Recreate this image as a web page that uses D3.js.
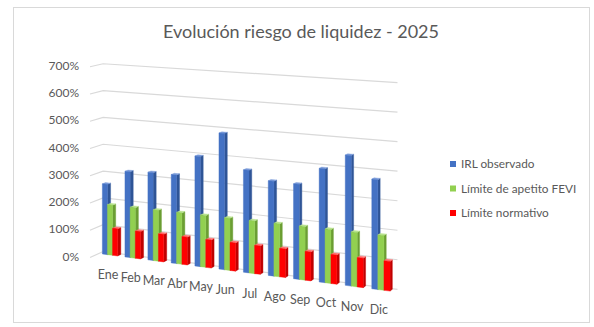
<!DOCTYPE html>
<html>
<head>
<meta charset="utf-8">
<script src="https://cdn.jsdelivr.net/npm/d3@7"></script>
<style>
  html, body { margin: 0; padding: 0; background: #ffffff; }
  svg { display: block; font-family: Lato, "Open Sans", sans-serif; }
</style>
</head>
<body>
<svg id="chart" width="594" height="327"></svg>
<script>
// ---- data ----
const months = ["Ene", "Feb", "Mar", "Abr", "May", "Jun", "Jul", "Ago", "Sep", "Oct", "Nov", "Dic"];
const irlObservado    = [260, 315, 320, 320, 395, 485, 362, 332, 330, 392, 446, 372];
const limiteApetito   = [185, 185, 185, 185, 185, 185, 185, 185, 185, 185, 185, 185];
const limiteNormativo = [100, 100, 100, 100, 100, 100, 100, 100, 100, 100, 100, 100];
const seriesNames = ["IRL observado", "Límite de apetito FEVI", "Límite normativo"];
const yTicks = [0, 100, 200, 300, 400, 500, 600, 700];
const chartTitle = "Evolución riesgo de liquidez - 2025";

// ---- styles ----
const faceColors = [
  { front: "#4472C4", side: "#2F5597", top: "#7C9CDA" },
  { front: "#92D050", side: "#6B9E33", top: "#B8E28E" },
  { front: "#FF0000", side: "#C00000", top: "#FF7070" }
];
const textColor = "#595959";
const gridColor = "#d9d9d9";

const svg = d3.select("#chart");

// chart frame
svg.append("rect")
  .attr("x", 13.5).attr("y", 7.5)
  .attr("width", 576).attr("height", 315)
  .attr("fill", "#ffffff").attr("stroke", gridColor);

// ---- 3-D perspective camera (world units: 1 = 100 %) ----
const view = { f: 1400, ox: 300, oy: -124, eye: 14, yaw: 24.12 * Math.PI / 180, z0: 52.19, x0: -7.34 };
const sinY = Math.sin(view.yaw), cosY = Math.cos(view.yaw);
function project(X, Y, Z) {
  const zc = view.z0 - X * sinY - Z * cosY;
  const xc = view.x0 + X * cosY - Z * sinY;
  return [view.ox + view.f * xc / zc, view.oy + view.f * (view.eye - Y) / zc];
}

const floorLen = 11.66, floorDepth = 0.895, barFront = 0.3, barDepth = 0.22;

const x = d3.scaleBand().domain(months).range([0, floorLen]).paddingInner(0.32).paddingOuter(0.16);
const xs = d3.scaleBand().domain(seriesNames).range([0, x.bandwidth()]);
const y = d3.scaleLinear().domain([0, 700]).range([0, 7]);

const line = d3.line();

// ---- walls: gridlines on side wall and back wall ----
const grid = svg.append("g").attr("class", "grid");
yTicks.forEach(t => {
  const pts = [
    project(0, y(t), floorDepth),
    project(0, y(t), 0),
    project(floorLen, y(t), 0)
  ];
  grid.append("path")
    .attr("d", line(pts))
    .attr("fill", "none")
    .attr("stroke", gridColor)
    .attr("stroke-width", 1.2);
});

// value axis labels
const yAxis = svg.append("g").attr("class", "y-axis");
yTicks.forEach(t => {
  const p = project(0, y(t), floorDepth);
  yAxis.append("text")
    .attr("x", p[0] - 11)
    .attr("y", p[1] - 1)
    .attr("dy", "0.35em")
    .attr("text-anchor", "end")
    .attr("font-size", 12)
    .attr("fill", textColor)
    .text(d3.format(".0%")(t / 100));
});

// ---- bars (painter's order: far/left first) ----
const seriesValues = [irlObservado, limiteApetito, limiteNormativo];
const bars = svg.append("g").attr("class", "bars");
months.forEach((m, i) => {
  seriesNames.forEach((s, j) => {
    const v = seriesValues[j][i];
    const X0 = x(m) + xs(s), X1 = X0 + xs.bandwidth();
    const Z1 = barFront, Z0 = barFront - barDepth;
    const H = y(v);
    const c = faceColors[j];
    const faces = [
      { pts: [[X1, 0, Z1], [X1, 0, Z0], [X1, H, Z0], [X1, H, Z1]], fill: c.side },
      { pts: [[X0, H, Z1], [X1, H, Z1], [X1, H, Z0], [X0, H, Z0]], fill: c.top },
      { pts: [[X0, 0, Z1], [X1, 0, Z1], [X1, H, Z1], [X0, H, Z1]], fill: c.front }
    ];
    faces.forEach(f => {
      bars.append("path")
        .attr("d", line(f.pts.map(p => project(...p))) + "Z")
        .attr("fill", f.fill)
        .attr("stroke", f.fill)
        .attr("stroke-width", 0.4);
    });
  });
});

// category labels
const xAxis = svg.append("g").attr("class", "x-axis");
months.forEach(m => {
  const p = project(x(m) + x.bandwidth() / 2, 0, barFront);
  xAxis.append("text")
    .attr("x", p[0] - 2)
    .attr("y", p[1] + 20)
    .attr("dy", "0.35em")
    .attr("text-anchor", "middle")
    .attr("font-size", 12.5)
    .attr("fill", textColor)
    .text(m);
});

// ---- title ----
svg.append("text")
  .attr("x", 301).attr("y", 38)
  .attr("text-anchor", "middle")
  .attr("font-size", 18)
  .attr("fill", textColor)
  .text(chartTitle);

// ---- legend ----
const legend = svg.append("g").attr("class", "legend").attr("transform", "translate(450,164)");
seriesNames.forEach((s, j) => {
  const g = legend.append("g").attr("transform", `translate(0,${j * 24.5})`);
  g.append("rect").attr("x", 0).attr("y", -3).attr("width", 6).attr("height", 6)
    .attr("fill", faceColors[j].front);
  g.append("text").attr("x", 11).attr("y", 0).attr("dy", "0.35em")
    .attr("font-size", 11.8).attr("fill", textColor).text(s);
});
</script>
</body>
</html>
